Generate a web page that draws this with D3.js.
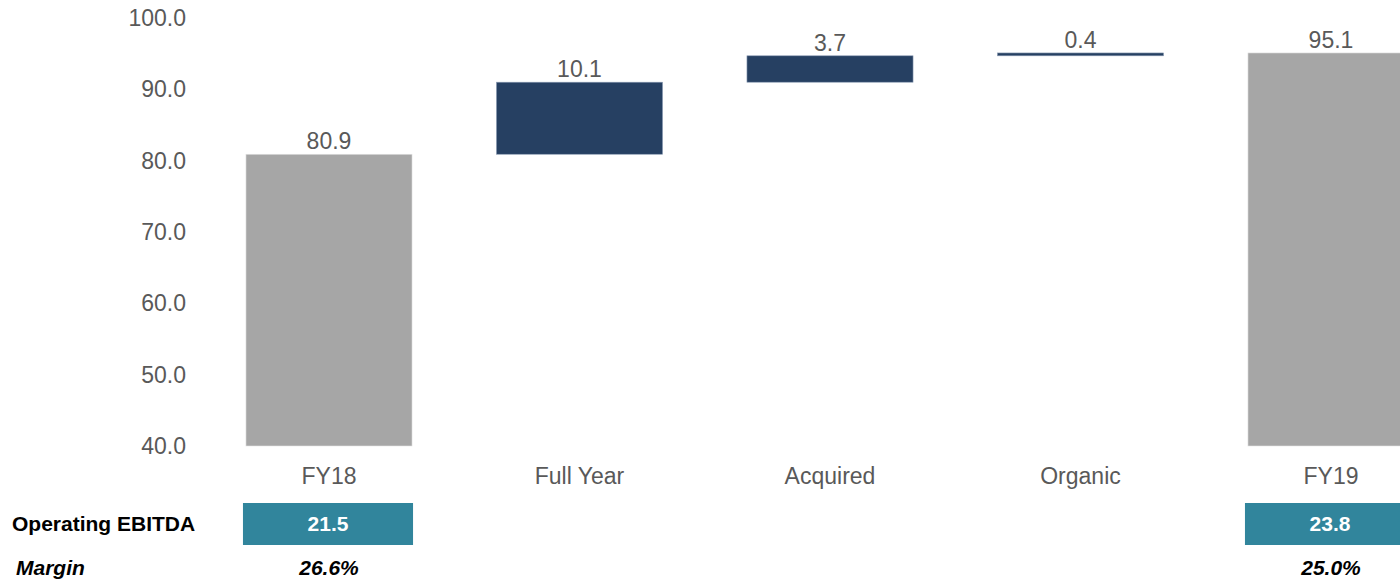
<!DOCTYPE html>
<html>
<head>
<meta charset="utf-8">
<script src="https://cdn.jsdelivr.net/npm/d3@7"></script>
<style>
  body { margin: 0; background: #fff; }
  svg text { font-family: Arial, "Liberation Sans", sans-serif; }
</style>
</head>
<body>
<div id="chart"></div>
<script>
const categories = ['FY18', 'Full Year', 'Acquired', 'Organic', 'FY19'];
const values = [80.9, 10.1, 3.7, 0.4, 95.1];
const kinds = ['total', 'delta', 'delta', 'delta', 'total'];
const yTicks = [40, 50, 60, 70, 80, 90, 100];
const ebitda = [21.5, null, null, null, 23.8];
const margins = ['26.6%', null, null, null, '25.0%'];

const width = 1400, height = 580;

const svg = d3.select('#chart').append('svg')
  .attr('width', width).attr('height', height);

// waterfall start / end
let running = 0;
const data = categories.map((c, i) => {
  let y0, y1;
  if (kinds[i] === 'total') { y0 = 40; y1 = values[i]; running = values[i]; }
  else { y0 = running; y1 = running + values[i]; running = y1; }
  return { cat: c, value: values[i], kind: kinds[i], y0, y1, ebitda: ebitda[i], margin: margins[i] };
});

const x = d3.scaleBand()
  .domain(categories)
  .range([203.75, 203.75 + 5 * 250.5])
  .paddingInner(0.337)
  .paddingOuter(0.1685);

const y = d3.scaleLinear().domain([40, 100]).range([446, 18]);

// y axis labels
const yAxis = d3.axisLeft(y).tickValues(yTicks).tickFormat(d3.format('.1f')).tickSize(0).tickPadding(0);
const ga = svg.append('g').attr('transform', 'translate(186,0)').call(yAxis);
ga.select('.domain').remove();
ga.selectAll('text').attr('fill', '#595959').style('font-size', '23px')
  .style('font-family', 'Arial, "Liberation Sans", sans-serif');

// bars
svg.selectAll('rect.bar')
  .data(data)
  .enter().append('rect')
  .attr('class', 'bar')
  .attr('x', d => x(d.cat))
  .attr('width', x.bandwidth())
  .attr('y', d => y(Math.max(d.y0, d.y1)))
  .attr('height', d => Math.max(2.5, Math.abs(y(d.y0) - y(d.y1))))
  .attr('fill', d => d.kind === 'total' ? '#a6a6a6' : '#264062')
  .attr('stroke', d => d.kind === 'total' ? '#e3e3e3' : '#8a9bb3')
  .attr('stroke-width', 0.6);

// value labels
svg.selectAll('text.val')
  .data(data)
  .enter().append('text')
  .attr('class', 'val')
  .attr('x', d => x(d.cat) + x.bandwidth() / 2)
  .attr('y', d => y(Math.max(d.y0, d.y1)) - 5)
  .attr('text-anchor', 'middle')
  .attr('fill', '#595959')
  .style('font-size', '23px')
  .text(d => d3.format('.1f')(d.value));

// category labels
svg.selectAll('text.cat')
  .data(data)
  .enter().append('text')
  .attr('class', 'cat')
  .attr('x', d => x(d.cat) + x.bandwidth() / 2)
  .attr('y', 484)
  .attr('text-anchor', 'middle')
  .attr('fill', '#595959')
  .style('font-size', '23px')
  .text(d => d.cat);

// EBITDA row
svg.append('text')
  .attr('x', 12).attr('y', 531)
  .attr('fill', '#000')
  .style('font-size', '21px').style('font-weight', 'bold')
  .text('Operating EBITDA');

svg.append('text')
  .attr('x', 16).attr('y', 575)
  .attr('fill', '#000')
  .style('font-size', '21px').style('font-weight', 'bold').style('font-style', 'italic')
  .text('Margin');

const eb = data.filter(d => d.ebitda !== null);

svg.selectAll('rect.eb')
  .data(eb)
  .enter().append('rect')
  .attr('class', 'eb')
  .attr('x', d => x(d.cat) - 3)
  .attr('width', x.bandwidth() + 4)
  .attr('y', 503)
  .attr('height', 42)
  .attr('fill', '#31859c');

svg.selectAll('text.eb')
  .data(eb)
  .enter().append('text')
  .attr('class', 'eb')
  .attr('x', d => x(d.cat) + x.bandwidth() / 2 - 1)
  .attr('y', 531)
  .attr('text-anchor', 'middle')
  .attr('fill', '#fff')
  .style('font-size', '21px').style('font-weight', 'bold')
  .text(d => d3.format('.1f')(d.ebitda));

svg.selectAll('text.mg')
  .data(eb)
  .enter().append('text')
  .attr('class', 'mg')
  .attr('x', d => x(d.cat) + x.bandwidth() / 2)
  .attr('y', 575)
  .attr('text-anchor', 'middle')
  .attr('fill', '#000')
  .style('font-size', '21px').style('font-weight', 'bold').style('font-style', 'italic')
  .text(d => d.margin);
</script>
</body>
</html>
